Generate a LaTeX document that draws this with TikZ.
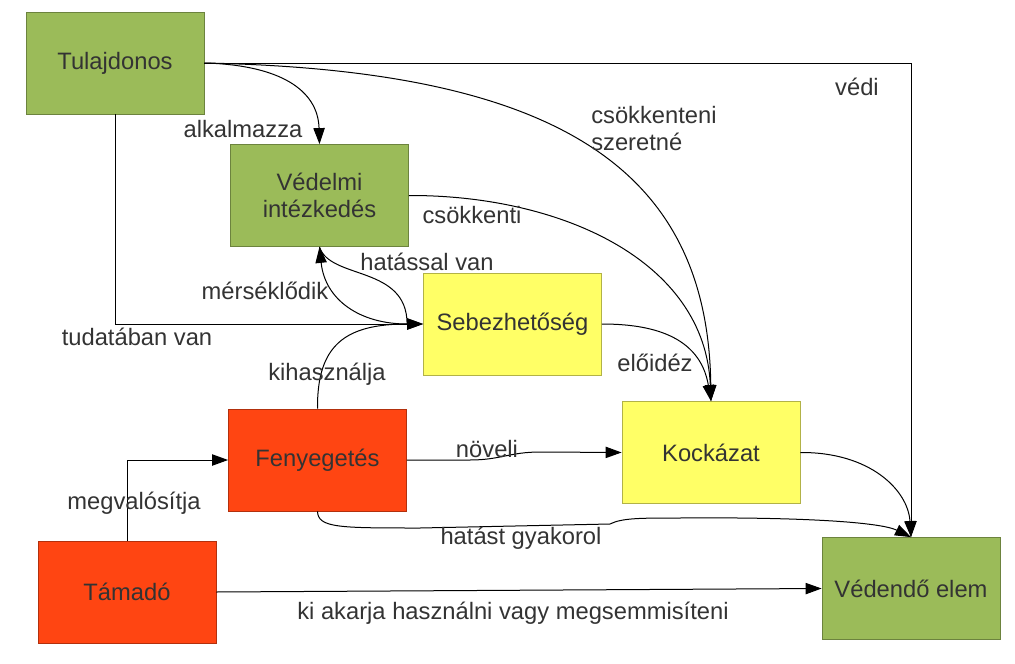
\documentclass[tikz,border=0pt]{standalone}
\usepackage{fontspec}
\setmainfont{Liberation Sans}
\usetikzlibrary{arrows.meta}
\definecolor{grn}{HTML}{9BBB59}
\definecolor{ylw}{HTML}{FFFF66}
\definecolor{rdo}{HTML}{FF4512}
\definecolor{txt}{HTML}{333333}
\newcommand{\fs}{\fontsize{17.8pt}{20.25pt}\selectfont}
\begin{document}
\begin{tikzpicture}[x=0.75pt,y=-0.75pt,
  box/.style={draw=#1!70!black, line width=0.6pt, fill=#1, minimum width=133.5pt, minimum height=76.5pt,
    inner sep=0pt, align=center, text=txt, font=\fs},
  lbl/.style={text=txt, inner sep=0pt, font=\fs},
  ln/.style={line width=0.75pt, black},
  arr/.style={ln, -{Triangle[length=12pt,width=8.5pt]}}]
\useasboundingbox (0,0) rectangle (1015,664);
% nodes
\node[box=grn] (tul) at (115,63) {Tulajdonos};
\node[box=grn] (ved) at (319.5,195.5) {Védelmi\\intézkedés};
\node[box=ylw] (seb) at (512.5,324) {Sebezhetőség};
\node[box=rdo] (fen) at (317.5,460) {Fenyegetés};
\node[box=ylw] (koc) at (711,452.5) {Kockázat};
\node[box=rdo] (tam) at (127,592) {Támadó};
\node[box=grn] (vde) at (911,588.5) {Védendő elem};
\path (seb.west) ++(-16,0) coordinate (sebin);
% connectors
\draw[arr] (tul.east) -| (vde.north);
\draw[arr] (tul.east) .. controls (280,65) and (318,90) .. (ved.north);
\draw[arr] (tul.east) .. controls (560,70) and (708,170) .. (koc.north);
\draw[arr] (tul.south) |- (seb.west);
\draw[arr] (ved.east) .. controls (560,195) and (705,260) .. (koc.north);
\draw[ln] (ved.south) .. controls (330,280) and (407,265) .. (sebin);
\draw[arr] (sebin) .. controls (360,324) and (325,300) .. (ved.south);
\draw[arr] (seb.east) .. controls (650,324) and (700,335) .. (koc.north);
\draw[arr] (fen.north) .. controls (317,345) and (345,324) .. (seb.west);
\draw[arr] (fen.east) -- (470,460) .. controls (500,460) and (510,452) .. (540,452) -- (koc.west);
\draw[arr] (fen.south) .. controls (318,528) and (340,528) .. (420,528) -- (610,524)
  .. controls (622,518) and (640,518) .. (680,518) .. controls (800,517) and (880,522) .. (vde.north);
\draw[arr] (koc.east) .. controls (870,452) and (908,490) .. (vde.north);
\draw[arr] (tam.north) |- (fen.west);
\draw[arr] (tam.east) -- (vde.west);
% labels
\node[lbl] (l1) at (243,129) {alkalmazza};
\node[lbl, anchor=west, align=left] (l2) at (591,128.5) {csökkenteni\\szeretné};
\node[lbl] (l3) at (857,87) {védi};
\node[lbl] (l4) at (472,215) {csökkenti};
\node[lbl] (l5) at (427,262) {hatással van};
\node[lbl] (l6) at (265,291) {mérséklődik};
\node[lbl] (l7) at (137,337) {tudatában van};
\node[lbl] (l8) at (655,363) {előidéz};
\node[lbl] (l9) at (327,374) {kihasználja};
\node[lbl] (l10) at (487,449) {növeli};
\node[lbl] (l11) at (134,503) {megvalósítja};
\node[lbl] (l12) at (521,538) {hatást gyakorol};
\node[lbl] (l13) at (513,613) {ki akarja használni vagy megsemmisíteni};
\end{tikzpicture}
\end{document}
